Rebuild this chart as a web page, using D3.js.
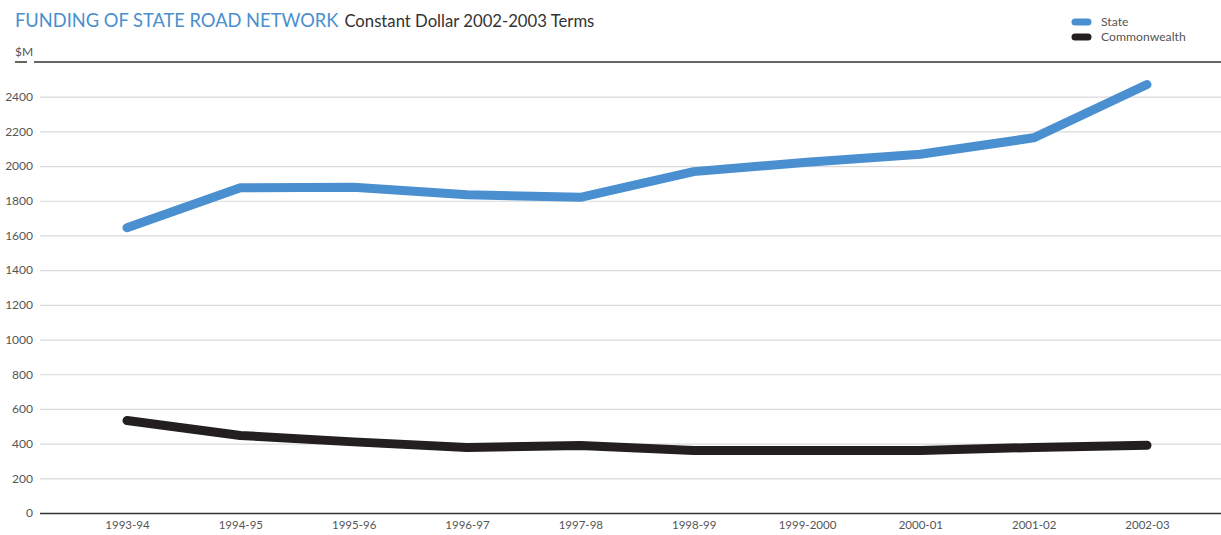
<!DOCTYPE html>
<html>
<head>
<meta charset="utf-8">
<script src="https://cdn.jsdelivr.net/npm/d3@7"></script>
<style>
  html, body { margin: 0; padding: 0; background: #fff; }
  svg { display: block; font-family: Lato, "Open Sans", sans-serif; }
</style>
</head>
<body>
<svg id="chart" width="1221" height="535"></svg>
<script>
// Financial years on the x axis
const years = ["1993-94", "1994-95", "1995-96", "1996-97", "1997-98",
               "1998-99", "1999-2000", "2000-01", "2001-02", "2002-03"];
// Funding in $M, constant 2002-2003 dollars
const stateFunding = [1645, 1875, 1878, 1835, 1820, 1968, 2022, 2068, 2163, 2470];
const commonwealthFunding = [533, 447, 410, 378, 389, 360, 360, 360, 378, 390];
// Value axis ticks
const yTicks = [0, 200, 400, 600, 800, 1000, 1200, 1400, 1600, 1800, 2000, 2200, 2400];

const seriesNames = ["State", "Commonwealth"];
const seriesColors = ["#4a8fcf", "#231f20"];

const svg = d3.select("#chart");

const x = d3.scalePoint().domain(years).range([127, 1147]);
const y = d3.scaleLinear().domain([0, 2600]).range([513, 62]);

// Title
const title = svg.append("text").attr("x", 15).attr("y", 27);
title.append("tspan").attr("fill", "#4a8fcf").attr("font-size", 18.3)
  .text("FUNDING OF STATE ROAD NETWORK");
title.append("tspan").attr("fill", "#333").attr("font-size", 16.7).attr("dx", 6)
  .text("Constant Dollar 2002-2003 Terms");

// Unit label and short rule beneath it
svg.append("text").attr("x", 15).attr("y", 56).attr("font-size", 12)
  .attr("fill", "#555").text("$M");
svg.append("line").attr("x1", 15).attr("x2", 27).attr("y1", y(2600)).attr("y2", y(2600))
  .attr("stroke", "#333").attr("stroke-width", 1.5);

// Horizontal gridlines via the y axis
const yAxis = d3.axisLeft(y).tickValues(yTicks).tickFormat(d3.format("d"))
  .tickSize(-(1221 - 40)).tickPadding(7);
const gy = svg.append("g").attr("transform", "translate(40,0)").call(yAxis);
gy.select(".domain").remove();
gy.selectAll(".tick line").attr("stroke", "#d9d9d9").attr("stroke-width", 1.2);
gy.selectAll(".tick text").attr("font-size", 12).attr("fill", "#555")
  .attr("font-family", "Lato, sans-serif").attr("x", -7);
gy.selectAll(".tick").filter(d => d === 0).select("line")
  .attr("stroke", "#333").attr("stroke-width", 1.5);

// Top rule
svg.append("line").attr("x1", 34).attr("x2", 1221).attr("y1", y(2600)).attr("y2", y(2600))
  .attr("stroke", "#333").attr("stroke-width", 1.5);

// Category labels
const xAxis = d3.axisBottom(x).tickSize(0).tickPadding(0);
const gx = svg.append("g").attr("transform", "translate(0,521)").call(xAxis);
gx.select(".domain").remove();
gx.selectAll(".tick text").attr("font-size", 11.5).attr("fill", "#555")
  .attr("font-family", "Lato, sans-serif").attr("dy", "0.71em");

// Lines
const line = d3.line().x((d, i) => x(years[i])).y(d => y(d));
[stateFunding, commonwealthFunding].forEach((vals, k) => {
  svg.append("path").datum(vals).attr("d", line)
    .attr("fill", "none").attr("stroke", seriesColors[k]).attr("stroke-width", 9)
    .attr("stroke-linecap", "round").attr("stroke-linejoin", "round");
});

// Legend
const legend = svg.append("g");
seriesNames.forEach((name, k) => {
  const ly = 22 + k * 15;
  legend.append("line").attr("x1", 1075).attr("x2", 1088).attr("y1", ly).attr("y2", ly)
    .attr("stroke", seriesColors[k]).attr("stroke-width", 7).attr("stroke-linecap", "round");
  legend.append("text").attr("x", 1101).attr("y", ly + 4).attr("font-size", 12.2)
    .attr("fill", "#555").text(name);
});
</script>
</body>
</html>
